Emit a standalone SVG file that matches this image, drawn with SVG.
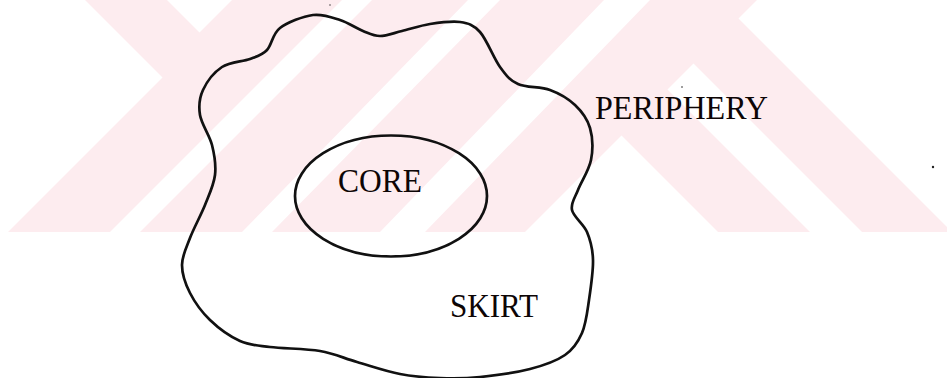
<svg xmlns="http://www.w3.org/2000/svg" width="947" height="378" viewBox="0 0 947 378">
  <style>
    .wm { fill: #fdecef; }
    .gap { fill: #ffffff; }
    .outline { fill: none; stroke: #111111; stroke-width: 2.7; stroke-linejoin: round; }
    .label { font-family: "Liberation Serif", "Times New Roman", serif; font-size: 34px; fill: #0d0505; }
    .speck { fill: #222222; }
  </style>
  <rect x="0" y="0" width="947" height="378" fill="#ffffff"/>
  <g id="watermark">
    <rect class="wm" x="0" y="0" width="947" height="232"/>
    <polygon class="gap" points="0,0 85,0 162.5,77.5 8,232 0,232"/>
    <polygon class="gap" points="167,0 232,0 199.5,32.5"/>
    <polygon class="gap" points="342,0 372,0 140,232 110,232"/>
    <polygon class="gap" points="468,0 500,0 272,232 242,232"/>
    <polygon class="gap" points="604,0 650,0 425,232 380,232"/>
    <polygon class="gap" points="757,0 947,0 947,227 738.5,18.5"/>
    <polygon class="gap" points="693.5,63.5 862,232 810,232 667.5,89.5"/>
    <polygon class="gap" points="621.5,135.5 718,232 525,232"/>
  </g>
  <g id="periphery">
    <path class="outline" d="M 280,28 C 287.7,22.2 303,16.3 313,15 C 323,13.7 331.7,17.3 340,20 C 348.3,22.7 356.3,28.3 363,31 C 369.7,33.7 373.5,36 380,36 C 386.5,36 393.7,33 402,31 C 410.3,29 420.3,25.5 430,24 C 439.7,22.5 451.7,20.7 460,22 C 468.3,23.3 473.3,24.5 480,32 C 486.7,39.5 493.7,58.3 500,67 C 506.3,75.7 509.7,80.2 518,84 C 526.3,87.8 540.5,86.5 550,90 C 559.5,93.5 568.3,98.7 575,105 C 581.7,111.3 587.3,118.8 590,128 C 592.7,137.2 593,149.7 591,160 C 589,170.3 581.2,181.7 578,190 C 574.8,198.3 570.5,203 572,210 C 573.5,217 583.5,223.7 587,232 C 590.5,240.3 592.7,248.7 593,260 C 593.3,271.3 590.8,287.8 589,300 C 587.2,312.2 586,323.8 582,333 C 578,342.2 573.7,349 565,355 C 556.3,361 544.2,365.3 530,369 C 515.8,372.7 495,375.5 480,377 C 465,378.5 453.3,378.5 440,378 C 426.7,377.5 413.8,376.7 400,374 C 386.2,371.3 370.3,365.8 357,362 C 343.7,358.2 334.5,353.5 320,351 C 305.5,348.5 283.3,348.7 270,347 C 256.7,345.3 250,345.5 240,341 C 230,336.5 218.3,328 210,320 C 201.7,312 194.7,302.2 190,293 C 185.3,283.8 182,274.2 182,265 C 182,255.8 186.2,248 190,238 C 193.8,228 200.8,215.5 205,205 C 209.2,194.5 213.8,185 215,175 C 216.2,165 214.5,155 212,145 C 209.5,135 201.5,124.2 200,115 C 198.5,105.8 199.3,98 203,90 C 206.7,82 214.2,72.2 222,67 C 229.8,61.8 242.5,61.8 250,59 C 257.5,56.2 262,55.2 267,50 C 272,44.8 272.3,33.8 280,28 Z"/>
    <text class="label" x="595" y="119" textLength="173" lengthAdjust="spacingAndGlyphs">PERIPHERY</text>
  </g>
  <g id="core">
    <ellipse class="outline" cx="391" cy="196" rx="96" ry="60.5"/>
    <text class="label" x="338" y="192" textLength="84" lengthAdjust="spacingAndGlyphs">CORE</text>
  </g>
  <g id="skirt">
    <text class="label" x="450" y="317" textLength="88" lengthAdjust="spacingAndGlyphs">SKIRT</text>
  </g>
  <g id="connectors"/>
  <g id="specks">
    <circle class="speck" cx="933" cy="167" r="1.2"/>
    <circle class="speck" cx="682" cy="87" r="0.8"/>
    <circle class="speck" cx="330" cy="5" r="0.7"/>
  </g>
</svg>
